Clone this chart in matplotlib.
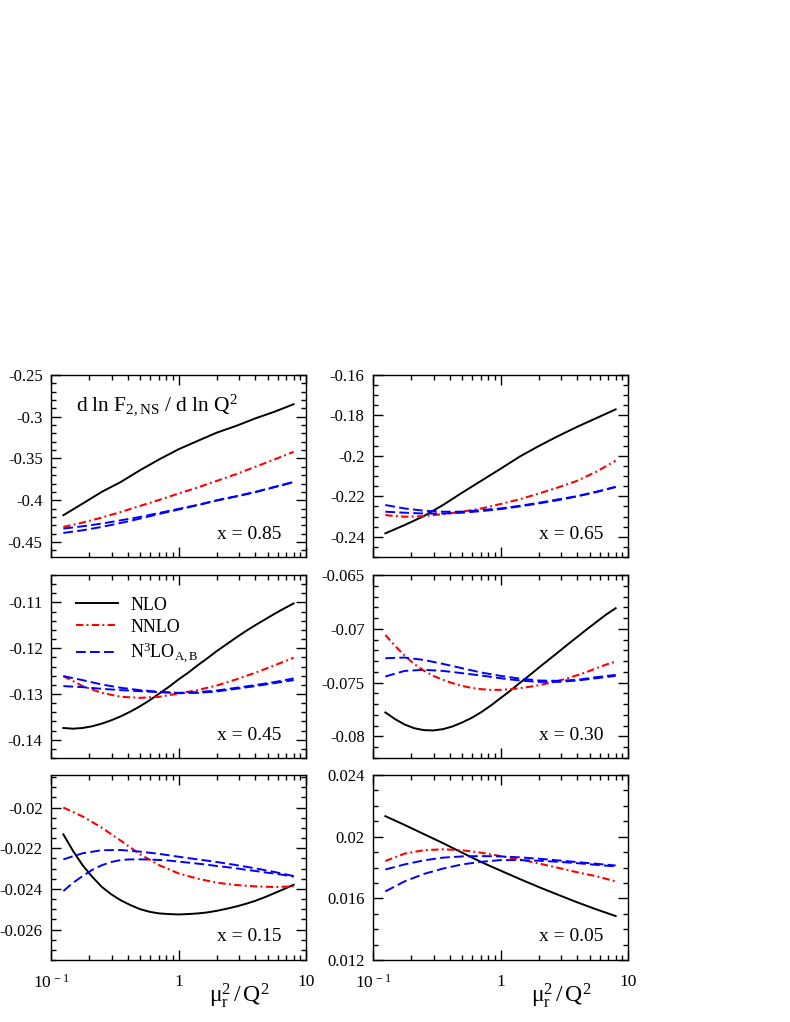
import matplotlib.pyplot as plt
from matplotlib.ticker import MultipleLocator, LogLocator, FuncFormatter, NullFormatter

plt.rcParams['font.family'] = 'Liberation Serif'
plt.rcParams['mathtext.fontset'] = 'custom'
plt.rcParams['mathtext.rm'] = 'Liberation Serif'
plt.rcParams['mathtext.it'] = 'Liberation Serif:italic'

# renormalisation scale mu_r^2 / Q^2
mu2 = [0.125, 0.177, 0.25, 0.354, 0.5, 0.707, 1.0, 1.41, 2.0, 2.83, 4.0, 5.66, 8.0]
# denser sampling for the curves that bend a lot
mu2_fine = [0.125, 0.149, 0.177, 0.21, 0.25, 0.297, 0.354, 0.42, 0.5, 0.595, 0.707, 0.841, 1.0,
            1.19, 1.41, 1.68, 2.0, 2.38, 2.83, 3.36, 4.0, 4.76, 5.66, 6.73, 8.0]

# x = 0.85
nlo_085 = [-0.418, -0.404, -0.390, -0.378, -0.364, -0.351, -0.339, -0.329, -0.319, -0.311, -0.302, -0.294, -0.285]
nnlo_085 = [-0.432, -0.4268, -0.4208, -0.414, -0.4068, -0.3996, -0.392, -0.3848, -0.3768, -0.3688, -0.360, -0.3512, -0.342]
n3loa_085 = [-0.434, -0.4312, -0.428, -0.424, -0.420, -0.4152, -0.4104, -0.4056, -0.400, -0.3952, -0.390, -0.384, -0.378]
n3lob_085 = [-0.4392, -0.436, -0.432, -0.4272, -0.422, -0.4164, -0.4112, -0.406, -0.4004, -0.3956, -0.3904, -0.3844, -0.3784]

# x = 0.65
nlo_065 = [-0.2383, -0.2342, -0.2298, -0.2243, -0.2182, -0.2123, -0.2064, -0.2004, -0.1951, -0.1902, -0.1856, -0.1813, -0.1770]
nnlo_065 = [-0.2293, -0.2301, -0.2298, -0.2288, -0.2276, -0.226, -0.2238, -0.2215, -0.2186, -0.2156, -0.2123, -0.2078, -0.2024]
n3loa_065 = [-0.2243, -0.226, -0.2271, -0.2276, -0.2276, -0.2268, -0.226, -0.2247, -0.2232, -0.2215, -0.2199, -0.2177, -0.2153]
n3lob_065 = [-0.2276, -0.2281, -0.2285, -0.2285, -0.2281, -0.2273, -0.2263, -0.225, -0.2235, -0.2219, -0.220, -0.2179, -0.2154]

# x = 0.45 (nlo on the fine grid)
nlo_045 = [-0.13744, -0.13759, -0.13744, -0.13707, -0.13649, -0.13576, -0.13488, -0.13385, -0.13268,
           -0.13137, -0.12990, -0.12844, -0.12683, -0.12537, -0.12376, -0.12222, -0.12061, -0.11915,
           -0.11768, -0.11629, -0.11498, -0.11373, -0.11249, -0.11132, -0.11022]
nnlo_045 = [-0.1261, -0.12829, -0.12976, -0.13063, -0.13085, -0.13063, -0.1299, -0.12917, -0.12815, -0.12683, -0.12537, -0.12376, -0.12207]
n3loa_045 = [-0.1261, -0.12698, -0.12793, -0.12866, -0.12917, -0.12954, -0.12976, -0.12961, -0.12924, -0.12866, -0.12807, -0.12741, -0.12661]
n3lob_045 = [-0.12829, -0.12851, -0.12888, -0.12917, -0.12939, -0.12961, -0.12983, -0.12976, -0.12946, -0.12888, -0.12829, -0.12763, -0.12698]

# x = 0.30 (nlo and nnlo on the fine grid)
nlo_030 = [-0.07777, -0.07839, -0.07889, -0.07923, -0.07941, -0.07944, -0.07932, -0.07907, -0.07870,
           -0.07827, -0.07774, -0.07712, -0.07644, -0.07576, -0.07505, -0.07434, -0.07360, -0.07289,
           -0.07218, -0.07146, -0.07075, -0.07004, -0.06936, -0.06868, -0.06809]
nnlo_030 = [-0.07057, -0.07159, -0.07249, -0.07326, -0.07388, -0.07437, -0.07474, -0.07505, -0.0753,
            -0.07549, -0.07561, -0.07567, -0.07567, -0.07561, -0.07552, -0.07539, -0.07524, -0.07505,
            -0.07484, -0.07459, -0.07431, -0.074, -0.07366, -0.07332, -0.07304]
n3loa_030 = [-0.07273, -0.07267, -0.07289, -0.07326, -0.07366, -0.07406, -0.07437, -0.07462, -0.0748, -0.07483, -0.07474, -0.07449, -0.07428]
n3lob_030 = [-0.07443, -0.07391, -0.07381, -0.07391, -0.07412, -0.07434, -0.07459, -0.0748, -0.07493, -0.07493, -0.0748, -0.07459, -0.07437]

# x = 0.15 (nlo and lower n3lo on the fine grid)
nlo_015 = [-0.02132, -0.02214, -0.02284, -0.0234, -0.0239, -0.02427, -0.02457, -0.0248, -0.025,
           -0.02513, -0.02521, -0.02524, -0.02526, -0.02524, -0.02521, -0.02516, -0.02508, -0.02498,
           -0.02487, -0.02474, -0.02459, -0.02441, -0.02421, -0.02401, -0.0238]
nnlo_015 = [-0.0200, -0.02044, -0.02099, -0.02164, -0.0223, -0.02284, -0.02324, -0.0235, -0.0237, -0.02381, -0.02388, -0.02391, -0.02388]
n3loa_015 = [-0.02255, -0.02225, -0.0221, -0.02209, -0.02217, -0.02228, -0.02242, -0.02255, -0.02268, -0.02283, -0.02299, -0.02317, -0.02337]
n3lob_015 = [-0.02411, -0.0237, -0.02337, -0.02307, -0.02284, -0.02268, -0.02258, -0.02255, -0.02255,
             -0.02256, -0.02258, -0.02261, -0.02266, -0.02271, -0.02276, -0.02281, -0.02288, -0.02293,
             -0.02299, -0.02306, -0.02312, -0.02319, -0.02325, -0.02332, -0.0234]

# x = 0.05
nlo_005 = [0.02133, 0.02076, 0.02017, 0.01958, 0.01896, 0.01835, 0.0178, 0.01726, 0.01673, 0.01623, 0.01574, 0.01528, 0.01485]
nnlo_005 = [0.01842, 0.0189, 0.01912, 0.01918, 0.01912, 0.01896, 0.01874, 0.01853, 0.01826, 0.01798, 0.01769, 0.01743, 0.0171]
n3loa_005 = [0.01787, 0.0182, 0.01846, 0.01864, 0.01872, 0.01874, 0.01872, 0.01866, 0.01857, 0.01846, 0.01835, 0.01824, 0.01813]
n3lob_005 = [0.01645, 0.0171, 0.01758, 0.01793, 0.0182, 0.01837, 0.01848, 0.01848, 0.01844, 0.01837, 0.01828, 0.01817, 0.01807]

x_labels = ['x = 0.85', 'x = 0.65', 'x = 0.45', 'x = 0.30', 'x = 0.15', 'x = 0.05']
curves = [
    (nlo_085, nnlo_085, n3loa_085, n3lob_085),
    (nlo_065, nnlo_065, n3loa_065, n3lob_065),
    (nlo_045, nnlo_045, n3loa_045, n3lob_045),
    (nlo_030, nnlo_030, n3loa_030, n3lob_030),
    (nlo_015, nnlo_015, n3loa_015, n3lob_015),
    (nlo_005, nnlo_005, n3loa_005, n3lob_005),
]

# y axis setup per panel: (ymin, ymax, major, minor)
yaxes = [
    (-0.468, -0.25, 0.05, 0.01),
    (-0.25, -0.16, 0.02, 0.005),
    (-0.144, -0.104, 0.01, 0.002),
    (-0.082, -0.065, 0.005, 0.001),
    (-0.0275, -0.0184, 0.002, 0.0005),
    (0.012, 0.024, 0.004, 0.001),
]


def xs_for(ys):
    return mu2_fine if len(ys) == len(mu2_fine) else mu2


fig = plt.figure(figsize=(7.9, 10.22), dpi=100)

W, H = 790.0, 1022.0
cols = [51, 373]
rows = [(375, 557), (575, 758), (775, 960)]
axw = 255

for i in range(6):
    r, c = divmod(i, 2)
    top, bot = rows[r]
    ax = fig.add_axes([cols[c] / W, 1 - bot / H, axw / W, (bot - top) / H])
    nlo, nnlo, n3a, n3b = curves[i]
    l1, = ax.plot(xs_for(nlo), nlo, color='black', lw=1.4)
    l2, = ax.plot(xs_for(nnlo), nnlo, color='red', lw=1.5, dashes=(3.5, 1.6, 0.9, 1.6))
    l3, = ax.plot(xs_for(n3a), n3a, color='blue', lw=1.4, dashes=(5, 2.2))
    ax.plot(xs_for(n3b), n3b, color='blue', lw=1.4, dashes=(5, 2.2))

    ax.set_xscale('log')
    ax.set_xlim(0.1, 10)
    ymin, ymax, major, minor = yaxes[i]
    ax.set_ylim(ymin, ymax)
    ax.yaxis.set_major_locator(MultipleLocator(major))
    ax.yaxis.set_minor_locator(MultipleLocator(minor))
    ax.yaxis.set_major_formatter(FuncFormatter(lambda v, p: '%g' % round(v, 6)))
    ax.xaxis.set_minor_locator(LogLocator(base=10, subs=range(2, 10)))
    ax.xaxis.set_minor_formatter(NullFormatter())
    ax.set_xticks([0.1, 1, 10])
    if r == 2:
        ax.set_xticklabels([r'$10^{\,-1}$', '1', '10'])
        ax.set_xlabel(r'$\mathrm{\mu_r^2\,/\,Q^2}$', fontsize=17)
        ax.xaxis.set_label_coords(0.74, -0.115)
    else:
        ax.set_xticklabels([])

    ax.tick_params(which='both', direction='in', top=True, right=True)
    ax.tick_params(which='major', length=7, width=1)
    ax.tick_params(which='minor', length=3.5, width=1)
    ax.tick_params(axis='x', pad=10, labelsize=12.5)
    ax.tick_params(axis='y', pad=6, labelsize=12)
    for s in ax.spines.values():
        s.set_linewidth(1.0)

    ax.text(0.905, 0.125, x_labels[i], transform=ax.transAxes, ha='right', va='center', fontsize=14)

    if i == 0:
        ax.text(0.10, 0.835, r'$\mathrm{d\ ln\ F_{2,NS}\ /\ d\ ln\ Q^2}$', transform=ax.transAxes,
                ha='left', va='center', fontsize=15.5)
    if i == 2:
        ax.legend([l1, l2, l3], ['NLO', 'NNLO', r'$\mathrm{N^3LO_{A,B}}$'], loc='upper left',
                  frameon=False, fontsize=13, handlelength=2.3, handletextpad=0.7,
                  labelspacing=0.28, borderaxespad=0.5, bbox_to_anchor=(0.035, 0.97))

fig.savefig('out.png', dpi=100)
